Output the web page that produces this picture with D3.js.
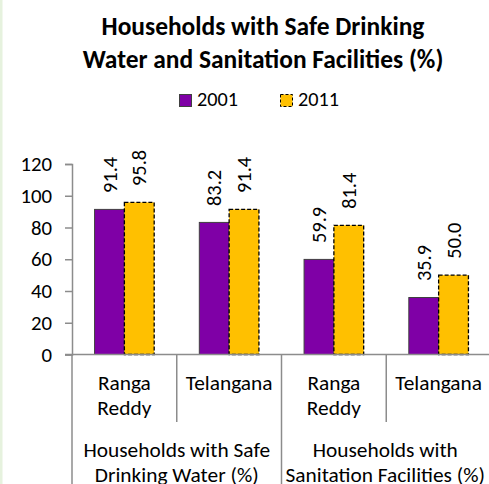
<!DOCTYPE html>
<html>
<head>
<meta charset="utf-8">
<script src="https://cdn.jsdelivr.net/npm/d3@7"></script>
<style>
  html, body { margin: 0; padding: 0; background: #fff; }
  svg { display: block; }
  text { font-family: Carlito, Lato, "Open Sans", sans-serif; fill: #000; }
</style>
</head>
<body>
<svg id="chart" width="489" height="484"></svg>
<script>
// ---- data ----
const titleLines = ["Households with Safe Drinking", "Water and Sanitation Facilities (%)"];
const seriesNames = ["2001", "2011"];
const categories = [["Ranga", "Reddy"], ["Telangana"], ["Ranga", "Reddy"], ["Telangana"]];
const groups = [["Households with Safe", "Drinking Water (%)"], ["Households with", "Sanitation Facilities (%)"]];
const groupSpan = [2, 2];
const values2001 = [91.4, 83.2, 59.9, 35.9];
const values2011 = [95.8, 91.4, 81.4, 50.0];
const yTicks = [0, 20, 40, 60, 80, 100, 120];
const colors = ["#7F00A6", "#FFC000"];

const svg = d3.select("#chart");
const W = 489, H = 484;
const FONT = "Carlito, Lato, 'Open Sans', sans-serif";

// size fitting helper: font size that makes `str` take `target` px
function fitSize(str, target, weight) {
  const t = svg.append("text").attr("font-size", 100).attr("font-weight", weight || "normal").text(str);
  const w = t.node().getComputedTextLength();
  t.remove();
  return 100 * target / w;
}
const bodySize = fitSize("Telangana", 87);
const titleSize = fitSize(titleLines[0], 323, "bold");
const numSize = fitSize("91.4", 36);
const tickSize = fitSize("120", 31.6);
const legendSize = fitSize("2001", 41);

// left green strip
svg.append("rect").attr("x", 0).attr("y", 0).attr("width", 2.5).attr("height", H).attr("fill", "#e6f2de");

const plotLeft = 72, plotRight = 491, yTop = 164, yBottom = 354.5;
const axisColor = "#8c8c8c";

const x0 = d3.scaleBand().domain(d3.range(categories.length)).range([plotLeft, plotRight]);
const x1 = d3.scaleBand().domain(seriesNames).range([0, x0.bandwidth()]).paddingInner(0).paddingOuter(0.757);
const y = d3.scaleLinear().domain([0, 120]).range([yBottom, yTop]);

// title
const title = svg.append("text").attr("text-anchor", "middle").attr("font-weight", "bold").attr("font-size", titleSize);
titleLines.forEach((t, i) => {
  title.append("tspan").attr("x", 263).attr("y", 34.5 + i * 33).text(t);
});

// legend
const legendX = [179, 280];
seriesNames.forEach((s, i) => {
  const g = svg.append("g");
  g.append("rect").attr("x", legendX[i] + 0.5).attr("y", 94.5).attr("width", 12).attr("height", 12)
    .attr("fill", colors[i])
    .attr("stroke", i === 0 ? "#404040" : "#000")
    .attr("stroke-width", 1)
    .attr("stroke-dasharray", i === 0 ? null : "3,2");
  g.append("text").attr("x", legendX[i] + 18).attr("y", 106).attr("font-size", legendSize).text(s);
});

// y axis
const yAxis = d3.axisLeft(y).tickValues(yTicks).tickSize(7).tickPadding(13).tickFormat(d3.format("d"));
const gy = svg.append("g").attr("transform", `translate(${plotLeft},0)`).call(yAxis);
gy.select(".domain").attr("stroke", axisColor).attr("stroke-width", 1.5);
gy.selectAll(".tick line").attr("stroke", axisColor).attr("stroke-width", 1.5);
gy.selectAll(".tick text").attr("font-size", tickSize).attr("font-family", FONT).attr("fill", "#000");

// bars
const data = categories.map((c, i) => ({ i, vals: [values2001[i], values2011[i]] }));
const grp = svg.append("g").selectAll("g").data(data).join("g")
  .attr("transform", d => `translate(${x0(d.i)},0)`);

grp.selectAll("rect").data(d => d.vals.map((v, k) => ({ v, k })))
  .join("rect")
  .attr("x", d => x1(seriesNames[d.k]))
  .attr("y", d => y(d.v))
  .attr("width", x1.bandwidth())
  .attr("height", d => y(0) - y(d.v))
  .attr("fill", d => colors[d.k])
  .attr("stroke", d => d.k === 0 ? "#404040" : "#000")
  .attr("stroke-width", d => d.k === 0 ? 1 : 1.3)
  .attr("stroke-dasharray", d => d.k === 0 ? null : "4,2");

// data labels
grp.selectAll("text.lbl").data(d => d.vals.map((v, k) => ({ v, k })))
  .join("text").attr("class", "lbl")
  .attr("transform", d => `translate(${x1(seriesNames[d.k]) + x1.bandwidth() / 2},${y(d.v) - 16.5}) rotate(-90)`)
  .attr("dy", "0.35em")
  .attr("font-size", numSize)
  .attr("text-anchor", "start")
  .text(d => d.v.toFixed(1));

// x axis line
svg.append("line").attr("x1", plotLeft - 7).attr("x2", plotRight).attr("y1", yBottom).attr("y2", yBottom)
  .attr("stroke", axisColor).attr("stroke-width", 1.5);

// category separators
const bounds = d3.range(categories.length + 1).map(i => i < categories.length ? x0(i) : plotRight);
let cum = 0;
const majorIdx = new Set([0]);
groupSpan.forEach(s => { cum += s; majorIdx.add(cum); });
bounds.forEach((bx, i) => {
  svg.append("line").attr("x1", bx).attr("x2", bx).attr("y1", yBottom)
    .attr("y2", majorIdx.has(i) ? H : 422)
    .attr("stroke", axisColor).attr("stroke-width", 1.5);
});

// category labels
categories.forEach((c, i) => {
  const t = svg.append("text").attr("text-anchor", "middle").attr("font-size", bodySize);
  c.forEach((line, j) => {
    t.append("tspan").attr("x", x0(i) + x0.bandwidth() / 2).attr("y", 390 + j * 25).text(line);
  });
});

// group labels
let start = 0;
groups.forEach((g, gi) => {
  const xs = x0(start);
  const xe = start + groupSpan[gi] < categories.length ? x0(start + groupSpan[gi]) : plotRight;
  const t = svg.append("text").attr("text-anchor", "middle").attr("font-size", bodySize);
  g.forEach((line, j) => {
    t.append("tspan").attr("x", (xs + xe) / 2 - (gi === 1 ? 1 : 0)).attr("y", 457 + j * 25).text(line);
  });
  start += groupSpan[gi];
});
</script>
</body>
</html>
